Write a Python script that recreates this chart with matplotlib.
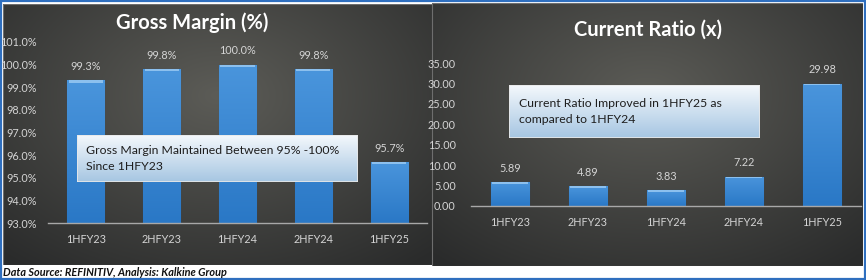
import numpy as np
import matplotlib
matplotlib.use("Agg")
import matplotlib.pyplot as plt
from matplotlib.patches import Rectangle

plt.rcParams['font.family'] = ['Lato', 'DejaVu Sans']

categories = ["1HFY23", "2HFY23", "1HFY24", "2HFY24", "1HFY25"]
gross_margin = [99.3, 99.8, 100.0, 99.8, 95.7]
gm_labels = ["99.3%", "99.8%", "100.0%", "99.8%", "95.7%"]
gm_ticks = [93.0, 94.0, 95.0, 96.0, 97.0, 98.0, 99.0, 100.0, 101.0]
current_ratio = [5.89, 4.89, 3.83, 7.22, 29.98]
cr_ticks = [0, 5, 10, 15, 20, 25, 30, 35]

W, H = 866, 280
fig = plt.figure(figsize=(W / 100, H / 100), dpi=100)
fig.patch.set_facecolor("white")


def fx(x):
    return x / W


def fy(y):
    return 1 - y / H


def rect_axes(x0, y0, x1, y1, z=0):
    return fig.add_axes([fx(x0), fy(y1), fx(x1 - x0), (y1 - y0) / H], zorder=z)


def radial_bg(ax, cx=0.5, cy=0.35):
    ny, nx = 200, 300
    yy, xx = np.mgrid[0:1:ny * 1j, 0:1:nx * 1j]
    d = np.sqrt(((xx - cx) * 1.0) ** 2 + ((yy - cy) * 0.9) ** 2)
    d = np.clip(d / 0.75, 0, 1)
    c0 = np.array([0x5c, 0x5c, 0x57]) / 255
    c1 = np.array([0x2a, 0x2b, 0x2b]) / 255
    img = c0[None, None, :] * (1 - d[..., None]) + c1[None, None, :] * d[..., None]
    ax.imshow(img, extent=[0, 1, 0, 1], aspect="auto", origin="upper")
    ax.set_xlim(0, 1)
    ax.set_ylim(0, 1)
    ax.axis("off")


# outer blue frame
frame = fig.add_axes([0, 0, 1, 1], zorder=-5)
frame.set_xlim(0, W)
frame.set_ylim(H, 0)
frame.axis("off")
frame.add_patch(Rectangle((0.5, 0.5), W - 1.5, H - 1.5, fill=False, ec="#2f6fbf", lw=1.6))

# panel backgrounds
bgL = rect_axes(3, 4, 432, 265, z=-2)
radial_bg(bgL)
bgR = rect_axes(432, 3, 863, 266, z=-2)
radial_bg(bgR)
for a in (bgL, bgR):
    a.add_patch(Rectangle((0, 0), 1, 1, transform=a.transAxes, fill=False, ec="#6e6e6e", lw=0.8))

label_col = "#d4d4d4"
bar_edge = "#1f5c9c"

bar_grad = np.linspace(0, 1, 64)[:, None]
bt = np.array([0x4a, 0x95, 0xdc]) / 255
bb = np.array([0x2a, 0x78, 0xc6]) / 255
bar_img = bt[None, None, :] * (1 - bar_grad[..., None]) + bb[None, None, :] * bar_grad[..., None]
bar_img = np.repeat(bar_img, 2, axis=1)


def draw_bars(ax, vals, base, ymax):
    x = np.arange(len(vals))
    bars = ax.bar(x, np.array(vals) - base, bottom=base, width=0.49, color="#3683cc",
                  edgecolor=bar_edge, linewidth=0.8, zorder=3)
    span = ymax - base
    for b in bars:
        x0, y0, w, h = b.get_x(), b.get_y(), b.get_width(), b.get_height()
        im = ax.imshow(bar_img, extent=[x0, x0 + w, y0, y0 + h], aspect="auto",
                       origin="upper", zorder=3.5)
        im.set_clip_path(b)
        # lighter top bevel
        bev = span * 0.012
        ax.add_patch(Rectangle((x0 + 0.02, y0 + h - bev), w - 0.04, bev,
                               color="#8cc0ee", lw=0, zorder=4))
    return x, bars


def style_axis(ax):
    for s in ["top", "right", "left"]:
        ax.spines[s].set_visible(False)
    ax.spines["bottom"].set_color("#a8a8a8")
    ax.spines["bottom"].set_linewidth(1.0)
    ax.spines["bottom"].set_zorder(5)
    ax.tick_params(length=0, colors=label_col, labelsize=7.8)
    ax.tick_params(axis="x", pad=8)


# ---------- Left chart ----------
axL = rect_axes(48, 42, 427, 223, z=1)
axL.set_facecolor("none")
x, bars = draw_bars(axL, gross_margin, 93.0, 101.0)
axL.set_ylim(93.0, 101.0)
axL.set_xlim(-0.5, 4.5)
axL.set_yticks(gm_ticks)
axL.set_yticklabels([f"{t:.1f}%" for t in gm_ticks])
axL.set_xticks(x)
axL.set_xticklabels(categories)
for i, v in enumerate(gross_margin):
    axL.annotate(gm_labels[i], (x[i], v), xytext=(0, 6), textcoords="offset points",
                 ha="center", va="bottom", color=label_col, fontsize=7.8)
style_axis(axL)
axL.tick_params(axis="y", pad=8)
fig.text(fx(192), fy(23), "Gross Margin (%)", ha="center", va="center",
         color="white", fontsize=14.5, fontweight="bold")

# ---------- Right chart ----------
axR = rect_axes(471, 63, 861, 206, z=1)
axR.set_facecolor("none")
x2, bars2 = draw_bars(axR, current_ratio, 0.0, 35.0)
axR.set_ylim(0, 35)
axR.set_xlim(-0.5, 4.5)
axR.set_yticks(cr_ticks)
axR.set_yticklabels([f"{t:.2f}" for t in cr_ticks])
axR.set_xticks(x2)
axR.set_xticklabels(categories)
for i, v in enumerate(current_ratio):
    axR.annotate(f"{v:.2f}", (x2[i], v), xytext=(0, 6), textcoords="offset points",
                 ha="center", va="bottom", color=label_col, fontsize=7.8)
style_axis(axR)
axR.tick_params(axis="y", pad=11)
fig.text(fx(648), fy(30), "Current Ratio (x)", ha="center", va="center",
         color="white", fontsize=14.5, fontweight="bold")


# ---------- annotation boxes ----------
def note_box(x0, y0, x1, y1, text, tx):
    ax = rect_axes(x0, y0, x1, y1, z=5)
    grad = np.linspace(0, 1, 100)[:, None]
    c0 = np.array([0xf4, 0xf8, 0xfc]) / 255
    c1 = np.array([0xa6, 0xc6, 0xe2]) / 255
    img = c0[None, None, :] * (1 - grad[..., None]) + c1[None, None, :] * grad[..., None]
    img = np.repeat(img, 2, axis=1)
    ax.imshow(img, extent=[0, 1, 0, 1], aspect="auto", origin="upper")
    ax.set_xlim(0, 1)
    ax.set_ylim(0, 1)
    ax.axis("off")
    ax.add_patch(Rectangle((0, 0), 1, 1, transform=ax.transAxes, fill=False,
                           ec="#e8e8e8", lw=1.2))
    fig.text(fx(tx), fy((y0 + y1) / 2), text, ha="left", va="center",
             color="#1e1e1e", fontsize=8.8, linespacing=1.5, zorder=10)


note_box(77, 135, 358, 182, "Gross Margin Maintained Between 95% -100%\nSince 1HFY23", 86)
note_box(509, 85, 760, 138, "Current Ratio Improved in 1HFY25 as\ncompared to 1HFY24", 519)

# footer
fig.text(fx(3), fy(272.5), "Data Source: REFINITIV, Analysis: Kalkine Group", ha="left",
         va="center", fontsize=7.8, fontweight="bold", fontstyle="italic", color="#111111")

fig.savefig("out.png", dpi=100, facecolor="white")
